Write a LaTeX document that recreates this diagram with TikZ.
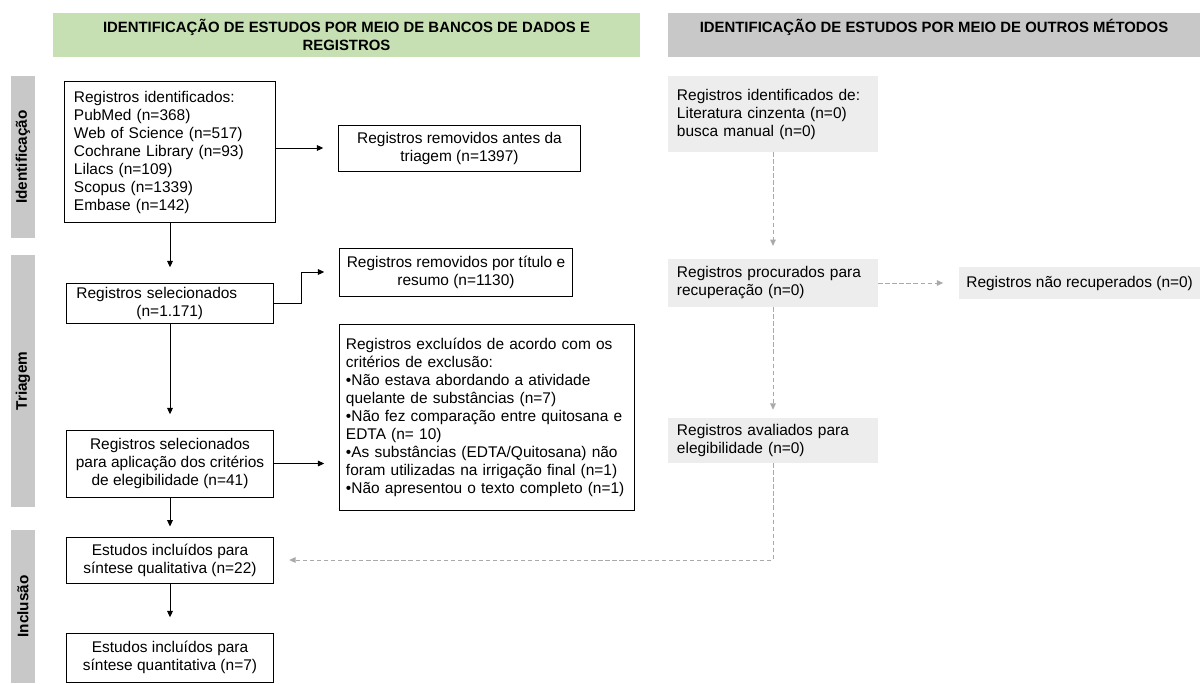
\documentclass[tikz,border=0pt]{standalone}
\usepackage{fontspec}
\setmainfont{Liberation Sans}
\usetikzlibrary{arrows.meta, positioning}

\definecolor{hdrgreen}{RGB}{198,224,180}
\definecolor{hdrgrey}{RGB}{200,200,200}
\definecolor{boxgrey}{RGB}{237,237,237}
\definecolor{dashgrey}{RGB}{170,170,170}

\newcommand{\jline}[1]{\makebox[\linewidth][s]{#1}}

\begin{document}
\begin{tikzpicture}[x=0.025cm, y=-0.025cm,
        every node/.style={font=\fontsize{11}{12.8}\selectfont},
        box/.style={draw, line width=0.7pt, inner sep=0pt},
        greybox/.style={fill=boxgrey, inner sep=0pt},
        header/.style={align=center, inner sep=0pt, font=\fontsize{10.6}{13}\selectfont\bfseries},
        band/.style={fill=hdrgrey, rotate=90, minimum height=0.6cm, inner sep=0pt, font=\fontsize{10.9}{12}\selectfont\bfseries},
        arr/.style={-{Triangle[length=4.5pt,width=4pt]}, line width=0.7pt, shorten >=0.38cm},
        darr/.style={arr, dashgrey, dash pattern=on 3pt off 2pt}
    ]
    \useasboundingbox (0,0) rectangle (1200,683);

    % column headers
    \node[header, fill=hdrgreen, minimum width=14.675cm, minimum height=1.1cm] (dbhead) at (346.5,35)
        {IDENTIFICAÇÃO DE ESTUDOS POR MEIO DE BANCOS DE DADOS E\\REGISTROS};
    \node[header, fill=hdrgrey, minimum width=13.3cm, minimum height=1.1cm] (otherhead) at (934,35)
        {IDENTIFICAÇÃO DE ESTUDOS POR MEIO DE OUTROS MÉTODOS\\\mbox{}};

    % phase bands
    \node[band, minimum width=4.05cm] (bandid) at (23,157) {Identificação};
    \node[band, minimum width=6.3cm] (bandtri) at (23,381) {Triagem};
    \node[band, minimum width=3.825cm] (bandinc) at (23,606.5) {Inclusão};

    % databases and registers
    \node[box, align=left, text width=4.8cm, inner xsep=0.225cm, minimum height=3.5cm] (ident) at (170,152)
        {Registros identificados:\\PubMed (n=368)\\Web of Science (n=517)\\Cochrane Library (n=93)\\Lilacs (n=109)\\Scopus (n=1339)\\Embase (n=142)};
    \node[box, align=center, minimum width=6.025cm, minimum height=1.15cm] (removed) at (459.5,148)
        {Registros removidos antes da\\triagem (n=1397)};
    \node[box, align=left, text width=4.675cm, inner xsep=0.25cm, minimum height=1cm] (screened) at (170,303)
        {Registros selecionados\\\hspace*{1.5cm}(n=1.171)};
    \node[box, align=center, minimum width=5.8cm, minimum height=1.2cm] (title) at (456,272)
        {Registros removidos por título e\\resumo (n=1130)};
    \node[box, align=left, text width=7.05cm, inner xsep=0.15cm, minimum height=4.625cm] (excluded) at (487,417.5)
        {\jline{Registros excluídos de acordo com os}\\
         critérios de exclusão:\\
         \jline{•Não estava abordando a atividade}\\
         quelante de substâncias (n=7)\\
         \jline{•Não fez comparação entre quitosana e}\\
         EDTA (n= 10)\\
         \jline{•As substâncias (EDTA/Quitosana) não}\\
         foram utilizadas na irrigação final (n=1)\\
         •Não apresentou o texto completo (n=1)};
    \node[box, align=center, minimum width=5.15cm, minimum height=1.675cm] (eligible) at (170,463.5)
        {Registros selecionados\\para aplicação dos critérios\\de elegibilidade (n=41)};
    \node[box, align=center, minimum width=5.175cm, minimum height=1.15cm] (qualit) at (170,560)
        {Estudos incluídos para\\síntese qualitativa (n=22)};
    \node[box, align=center, minimum width=5.175cm, minimum height=1.225cm] (quantit) at (170,657.5)
        {Estudos incluídos para\\síntese quantitativa (n=7)};

    % other methods
    \node[greybox, align=left, text width=4.8cm, inner xsep=0.225cm, minimum height=1.9cm] (otherid) at (773,114)
        {Registros identificados de:\\Literatura cinzenta (n=0)\\busca manual (n=0)};
    \node[greybox, align=left, text width=4.8cm, inner xsep=0.225cm, minimum height=1.2cm] (sought) at (773,283)
        {\jline{Registros procurados para}\\recuperação (n=0)};
    \node[greybox, minimum width=6.05cm, minimum height=0.775cm, right=2cm of sought] (notretr)
        {Registros não recuperados (n=0)};
    \node[greybox, align=left, text width=4.8cm, inner xsep=0.225cm, minimum height=1.125cm] (assessed) at (773,440.5)
        {\jline{Registros avaliados para}\\elegibilidade (n=0)};

    \draw[arr] (ident.east |- removed) -- (removed);
    \draw[arr] (ident) -- (screened);
    \draw[arr] (screened.east) -- ++(27,0) |- (title);
    \draw[arr] (screened) -- (eligible);
    \draw[arr] (eligible.east) -- (eligible.east -| excluded.west);
    \draw[arr, shorten >=0.25cm] (eligible) -- (qualit);
    \draw[arr] (qualit) -- (quantit);

    \draw[darr, shorten >=0.32cm] (otherid) -- (sought);
    \draw[darr] (sought) -- (notretr);
    \draw[darr, shorten >=0.2cm] (sought) -- (assessed);
    \draw[darr] (assessed) |- (qualit);
\end{tikzpicture}
\end{document}
